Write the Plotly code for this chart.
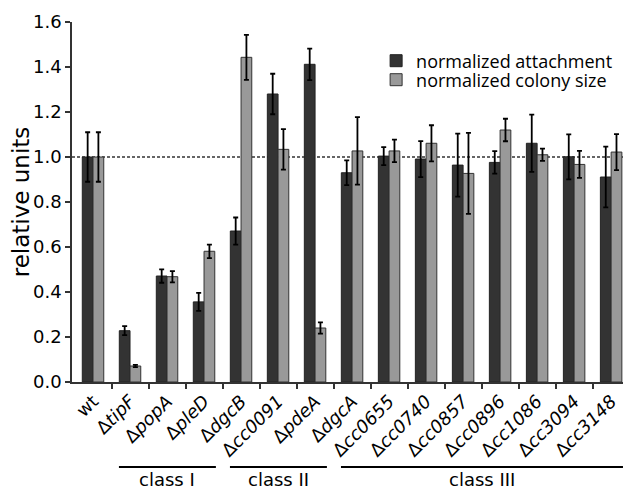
import plotly.graph_objects as go

strains = ["wt", "Δ<i>tipF</i>", "Δ<i>popA</i>", "Δ<i>pleD</i>", "Δ<i>dgcB</i>", "Δ<i>cc0091</i>",
           "Δ<i>pdeA</i>", "Δ<i>dgcA</i>", "Δ<i>cc0655</i>", "Δ<i>cc0740</i>", "Δ<i>cc0857</i>",
           "Δ<i>cc0896</i>", "Δ<i>cc1086</i>", "Δ<i>cc3094</i>", "Δ<i>cc3148</i>"]
attachment = [1.00, 0.228, 0.471, 0.356, 0.671, 1.28, 1.412, 0.930, 1.004, 0.991, 0.964, 0.976, 1.061, 1.001, 0.911]
attachment_err = [0.11, 0.02, 0.03, 0.04, 0.06, 0.09, 0.07, 0.055, 0.04, 0.08, 0.14, 0.05, 0.127, 0.10, 0.135]
colony = [1.00, 0.071, 0.468, 0.581, 1.443, 1.034, 0.24, 1.027, 1.027, 1.061, 0.927, 1.12, 1.01, 0.967, 1.022]
colony_err = [0.11, 0.005, 0.025, 0.03, 0.10, 0.09, 0.025, 0.15, 0.05, 0.08, 0.18, 0.05, 0.027, 0.06, 0.08]

classes = ["class I", "class II", "class III"]
class_first = [1, 4, 7]
class_last = [3, 6, 14]

y_ticks = [0.0, 0.2, 0.4, 0.6, 0.8, 1.0, 1.2, 1.4, 1.6]
reference_level = 1.0

fig = go.Figure()
fig.add_trace(go.Bar(
    x=list(range(len(strains))), y=attachment, name="normalized attachment", legend="legend",
    marker=dict(color="#333333", line=dict(color="#222222", width=1)),
    error_y=dict(type="data", array=attachment_err, color="black", thickness=1.8, width=2.5),
))
fig.add_trace(go.Bar(
    x=list(range(len(strains))), y=colony, name="normalized colony size", legend="legend2",
    marker=dict(color="#999999", line=dict(color="#333333", width=1)),
    error_y=dict(type="data", array=colony_err, color="black", thickness=1.8, width=2.5),
))

fig.add_shape(type="line", xref="paper", x0=0, x1=1, yref="y", y0=reference_level, y1=reference_level,
              line=dict(color="#333333", width=1.5, dash="3px,2px"), layer="below")

for name, a, b in zip(classes, class_first, class_last):
    fig.add_shape(type="line", xref="x", yref="paper", x0=a - 0.3, x1=b + 0.32, y0=-0.236, y1=-0.236,
                  line=dict(color="black", width=2))
    fig.add_annotation(x=(a + b) / 2 + 0.01, y=-0.272, xref="x", yref="paper", text=name,
                       showarrow=False, yanchor="middle", font=dict(family="DejaVu Sans", size=18, color="black"))

legend_style = dict(xanchor="left", yanchor="middle", font=dict(family="Open Sans", size=18, color="black"),
                    bgcolor="rgba(0,0,0,0)", itemwidth=30)

fig.update_layout(
    width=623, height=483, autosize=False,
    margin=dict(l=64, r=1, t=14, b=109, autoexpand=False),
    plot_bgcolor="white", paper_bgcolor="white",
    barmode="group", bargap=0.42, bargroupgap=0,
    font=dict(family="DejaVu Sans", color="black"),
    legend=dict(x=0.545, y=0.8917, **legend_style),
    legend2=dict(x=0.545, y=0.8389, **legend_style),
    showlegend=True,
)
fig.update_xaxes(
    tickmode="array", tickvals=list(range(len(strains))), ticktext=strains,
    range=[-0.568, 14.51], tickangle=-45, automargin=False,
    tickfont=dict(family="DejaVu Sans", size=18, color="black"),
    showline=True, linecolor="#333333", linewidth=1.5,
    ticks="", showgrid=False, zeroline=False,
    minor=dict(tickmode="array", tickvals=[i + 0.5 for i in range(len(strains) - 1)],
               ticks="outside", ticklen=5, tickcolor="#333333", tickwidth=1.5),
)
fig.update_yaxes(
    range=[0, 1.6], tickvals=y_ticks, ticktext=[f"{v:.1f}" for v in y_ticks], automargin=False,
    tickfont=dict(family="DejaVu Sans", size=18, color="black"),
    title=dict(text="relative units", font=dict(family="DejaVu Sans", size=23, color="black"), standoff=6),
    showline=True, linecolor="#333333", linewidth=1.5,
    ticks="outside", ticklen=5, tickcolor="#333333", tickwidth=1.5,
    showgrid=False, zeroline=False,
)

fig.write_html("out.html")
